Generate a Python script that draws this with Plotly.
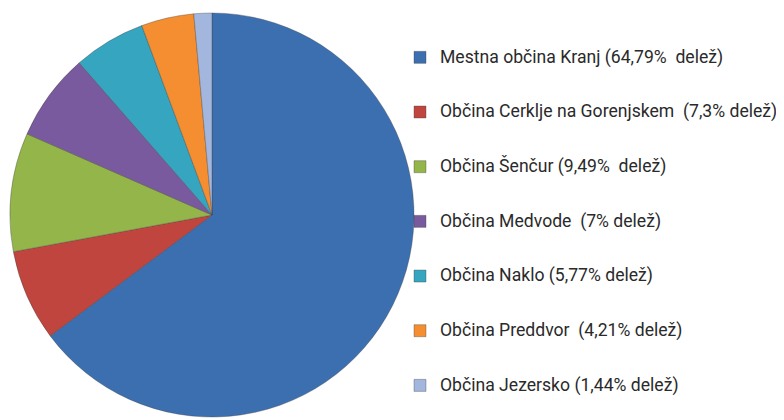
import plotly.graph_objects as go

labels = [
    "Mestna občina Kranj (64,79%\u00a0 delež)",
    "Občina Cerklje na Gorenjskem\u00a0 (7,3% delež)",
    "Občina Šenčur (9,49%\u00a0 delež)",
    "Občina Medvode\u00a0 (7% delež)",
    "Občina Naklo (5,77% delež)",
    "Občina Preddvor\u00a0 (4,21% delež)",
    "Občina Jezersko (1,44% delež)",
]
shares = [64.79, 7.3, 9.49, 7.0, 5.77, 4.21, 1.44]
colors = ["#3C6FB0", "#C0453F", "#93B54A", "#7A5A9E", "#35A5C0", "#F48E30", "#A3B7DE"]

legend_labels = [f" <br><span style='font-size:17.6px'>{l}</span><br> " for l in labels]

fig = go.Figure(
    go.Pie(
        labels=legend_labels,
        values=shares,
        sort=False,
        direction="clockwise",
        rotation=0,
        textinfo="none",
        hoverinfo="label+percent",
        marker=dict(colors=colors, line=dict(color="rgba(60,60,60,0.35)", width=1)),
        domain=dict(x=[2 / 784, 406 / 784], y=[11 / 420, 415 / 420]),
    )
)

fig.update_layout(
    width=784,
    height=420,
    margin=dict(l=0, r=0, t=0, b=0),
    paper_bgcolor="white",
    plot_bgcolor="white",
    font=dict(family="Roboto, Arial, sans-serif", color="#2a2a2a"),
    showlegend=True,
    legend=dict(
        x=392 / 784,
        xanchor="left",
        y=1 - 17 / 420,
        yanchor="top",
        font=dict(size=13.25, family="Roboto, Arial, sans-serif", color="#2a2a2a"),
        valign="middle",
        bgcolor="rgba(0,0,0,0)",
    ),
)

fig.write_html("out.html")
